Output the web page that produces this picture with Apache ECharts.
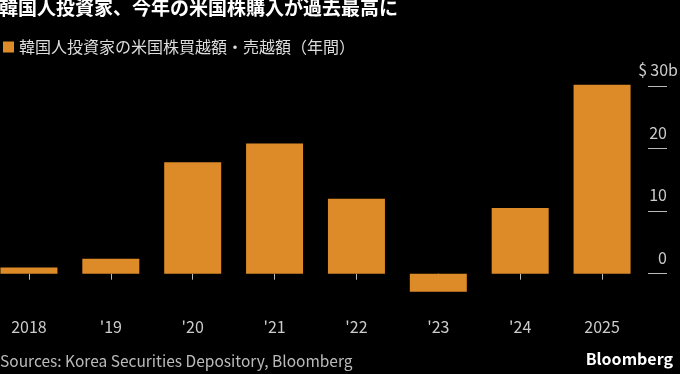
<!DOCTYPE html>
<html><head><meta charset="utf-8">
<script src="https://cdn.jsdelivr.net/npm/echarts@6/dist/echarts.min.js"></script>
<style>html,body{margin:0;padding:0;background:#000;}#c{width:680px;height:374px;}</style>
</head><body><div id="c"></div>
<script>
const titleText = '韓国人投資家、今年の米国株購入が過去最高に';
const seriesName = '韓国人投資家の米国株買越額・売越額（年間）';
const categories = ['2018', "'19", "'20", "'21", "'22", "'23", "'24", '2025'];
const netPurchase = [1.0, 2.4, 17.8, 20.8, 12.0, -2.9, 10.5, 30.2];
const yTicks = [0, 10, 20, 30];
const sourceText = 'Sources: Korea Securities Depository, Bloomberg';

const FONT = '"Noto Sans CJK JP", "Noto Sans", sans-serif';
const chart = echarts.init(document.getElementById('c'));
chart.setOption({
  backgroundColor: '#000',
  animation: false,
  textStyle: { fontFamily: FONT },
  title: {
    text: titleText, left: -1, top: -2, padding: 0,
    textStyle: { color: '#fff', fontSize: 19, fontWeight: 'bold', fontFamily: FONT }
  },
  legend: {
    data: [seriesName], left: 3, top: 39, padding: 0,
    icon: 'rect', itemWidth: 11, itemHeight: 11,
    textStyle: { color: '#dddddd', fontSize: 16, fontFamily: FONT }
  },
  grid: { left: -12, right: 37, top: 86, bottom: 69, outerBoundsMode: 'none', containLabel: false },
  xAxis: {
    type: 'category', data: categories, position: 'bottom',
    axisLine: { show: false },
    axisTick: { show: true, alignWithLabel: true, length: 6, lineStyle: { color: '#bbbbbb' } },
    axisLabel: { color: '#cccccc', fontSize: 16, margin: 14, fontFamily: FONT }
  },
  yAxis: {
    type: 'value', position: 'right', min: -5, max: 30, offset: 5,
    splitLine: { show: false },
    axisLine: { show: false },
    axisTick: { show: true, customValues: yTicks, length: 19, lineStyle: { color: '#bbbbbb' } },
    axisLabel: {
      customValues: yTicks, color: '#cccccc', fontSize: 16, margin: 30, align: 'right',
      verticalAlign: 'bottom', padding: [0, 0, 8, 0], fontFamily: FONT,
      formatter: v => v === 30 ? '{v|$\u200930b}' : '{v|' + v + '}{p|}',
      rich: { v: { color: '#cccccc', fontSize: 16, fontFamily: FONT }, p: { width: 11 } }
    }
  },
  series: [{
    name: seriesName, type: 'bar', data: netPurchase, barWidth: 57, clip: false,
    itemStyle: { color: '#dd8b28' }
  }],
  graphic: [
    { type: 'text', left: 0, top: 353, style: { text: sourceText, fill: '#bbbbbb', font: '15.5px ' + FONT } },
    { type: 'text', right: 7, top: 351, style: { text: 'Bloomberg', fill: '#ffffff', font: 'bold 16px ' + FONT } }
  ]
});
</script></body></html>
